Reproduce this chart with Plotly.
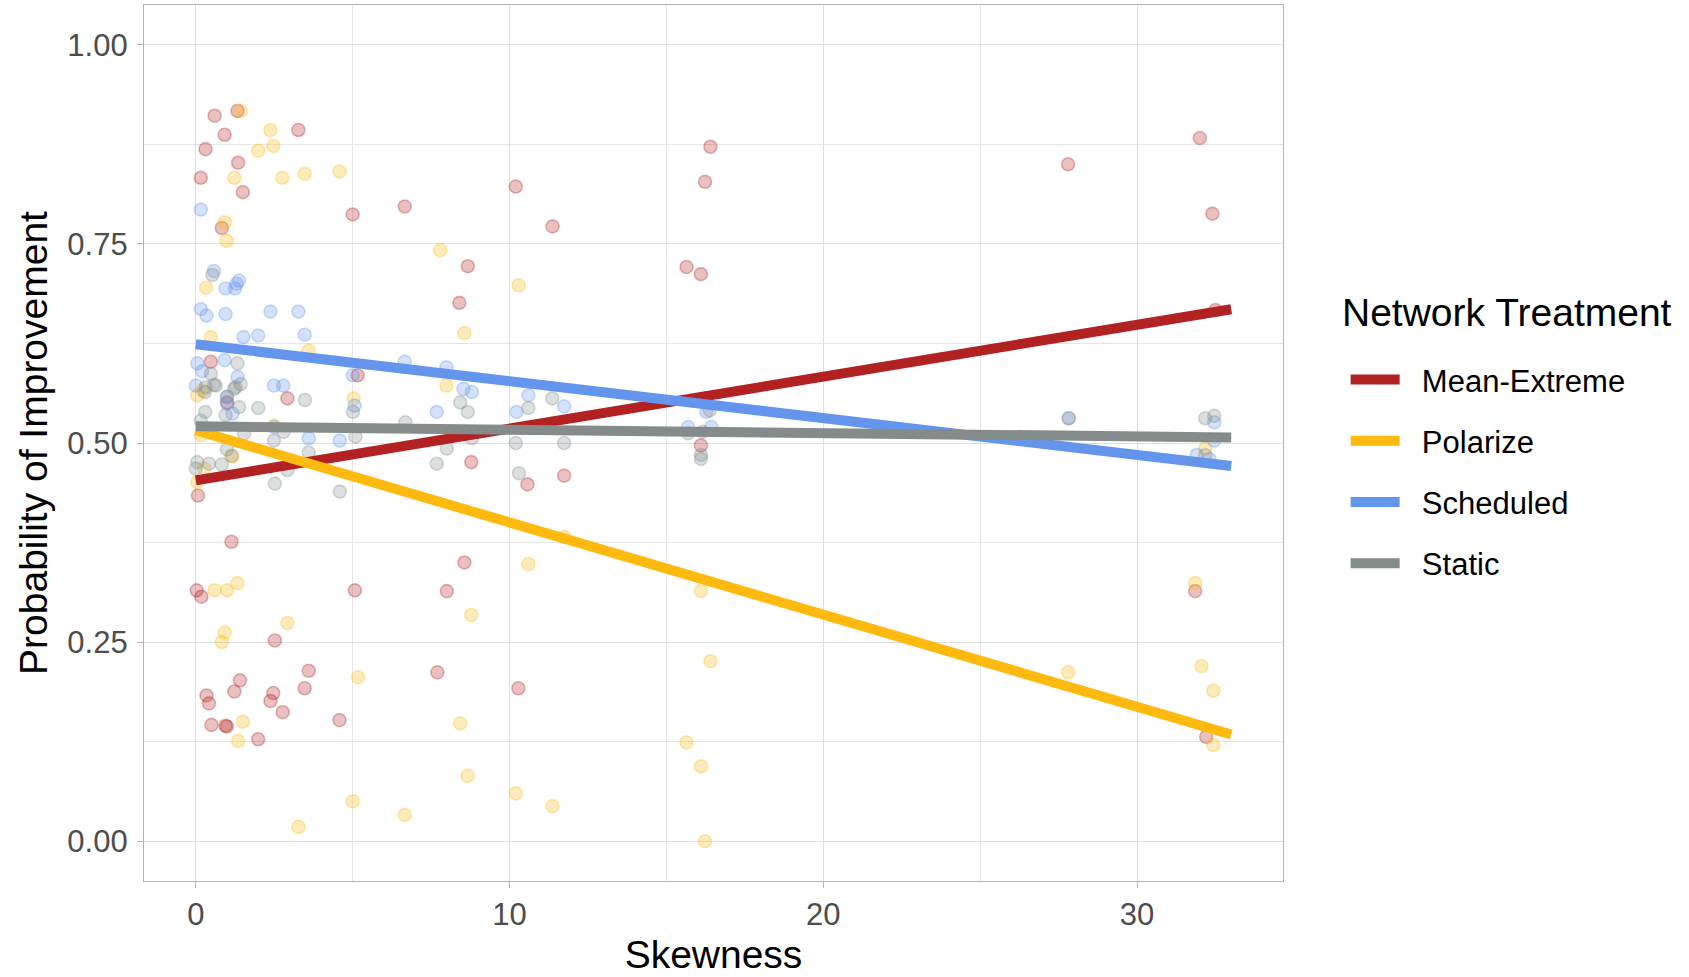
import plotly.graph_objects as go

# ---- observed points (skewness, probability of improvement) per treatment ----
mean_extreme_x = [0.60, 1.33, 0.92, 0.31, 1.35, 0.16, 1.50, 3.27, 5.00, 6.66, 0.83,
                  10.20, 11.37, 8.67, 8.40, 16.40, 16.23, 15.64, 16.10, 27.80, 32.00, 32.40, 32.50,
                  0.48, 5.16, 2.92, 1.00, 8.78, 10.57, 11.74, 16.10, 0.07,
                  1.14, 0.03, 0.18, 5.07, 8.00, 8.56, 10.28, 2.52, 3.60, 3.47, 1.41, 1.23,
                  0.34, 0.42, 2.47, 2.38, 2.77, 0.50, 0.95, 0.99, 1.99, 4.58, 31.85, 32.20, 7.70]
mean_extreme_y = [0.911, 0.917, 0.887, 0.869, 0.852, 0.833, 0.815, 0.893, 0.787, 0.797, 0.770,
                  0.822, 0.772, 0.722, 0.676, 0.872, 0.828, 0.721, 0.712, 0.850, 0.883, 0.788, 0.667,
                  0.602, 0.585, 0.556, 0.551, 0.476, 0.448, 0.459, 0.497, 0.434,
                  0.376, 0.315, 0.307, 0.315, 0.314, 0.350, 0.192, 0.252, 0.214, 0.192, 0.202, 0.188,
                  0.183, 0.173, 0.186, 0.176, 0.162, 0.146, 0.145, 0.144, 0.128, 0.152, 0.314, 0.131, 0.212]

polarize_x = [1.43, 2.38, 1.99, 2.47, 1.23, 2.76, 3.47, 4.58, 0.93, 0.98, 7.79, 0.33, 0.48,
              3.60, 10.29, 8.56, 7.99, 5.03, 0.05, 0.21, 2.49,
              0.16, 1.17, 0.27, 0.05, 32.17,
              0.60, 1.00, 1.33, 0.92, 0.83, 2.92, 1.50, 1.35, 5.17, 5.00, 6.66, 3.27,
              8.78, 8.43, 8.66, 10.20, 11.37, 16.10, 16.40, 15.64, 16.10, 16.23, 10.60, 11.74,
              31.85, 32.05, 32.43, 32.43, 27.80]
polarize_y = [0.917, 0.893, 0.867, 0.873, 0.833, 0.833, 0.838, 0.841, 0.777, 0.754, 0.742, 0.695, 0.633,
              0.616, 0.698, 0.638, 0.572, 0.556, 0.560, 0.566, 0.522,
              0.510, 0.483, 0.468, 0.451, 0.493,
              0.315, 0.315, 0.324, 0.262, 0.250, 0.274, 0.150, 0.126, 0.206, 0.050, 0.033, 0.018,
              0.284, 0.148, 0.082, 0.060, 0.044, 0.314, 0.226, 0.124, 0.094, 0.000, 0.348, 0.382,
              0.324, 0.220, 0.189, 0.121, 0.212]

scheduled_x = [0.16, 0.58, 0.95, 1.25, 1.38, 1.30, 0.16, 0.34, 0.95, 2.38, 3.27, 1.52, 1.99,
               3.47, 0.05, 0.92, 1.33, 2.49, 2.79, 0.00, 6.66, 5.00, 5.06, 7.68, 1.00, 1.00,
               1.17, 3.60, 4.59, 7.99, 8.53, 8.80, 10.22, 10.60, 11.74, 16.27, 15.69, 16.43,
               27.82, 32.46, 32.46, 31.90, 32.30, 2.50, 0.20]
scheduled_y = [0.793, 0.716, 0.694, 0.694, 0.704, 0.700, 0.668, 0.660, 0.662, 0.665, 0.665, 0.633, 0.635,
               0.636, 0.600, 0.604, 0.583, 0.572, 0.572, 0.572, 0.602, 0.585, 0.547, 0.539, 0.558, 0.549,
               0.537, 0.506, 0.503, 0.595, 0.568, 0.564, 0.539, 0.560, 0.546, 0.539, 0.520, 0.520,
               0.531, 0.526, 0.503, 0.485, 0.480, 0.520, 0.590]

static_x = [0.53, 1.33, 0.48, 0.58, 1.22, 1.43, 0.29, 0.99, 1.38, 1.99, 3.48, 0.30, 0.95, 5.01,
            6.68, 0.16, 1.54, 2.49, 2.80, 3.60, 0.99, 1.14, 0.05, 0.00, 0.42, 0.83, 2.92, 2.52,
            4.59, 5.09, 8.43, 8.67, 8.80, 8.00, 7.68, 10.60, 11.36, 10.20, 11.74, 10.30, 16.38,
            15.69, 16.16, 16.10, 16.10, 27.82, 32.17, 32.46, 32.17, 0.32, 0.64, 1.27]
static_y = [0.711, 0.600, 0.587, 0.573, 0.568, 0.574, 0.564, 0.558, 0.545, 0.544, 0.554, 0.539, 0.535, 0.539,
            0.526, 0.528, 0.512, 0.503, 0.514, 0.488, 0.492, 0.484, 0.476, 0.468, 0.474, 0.473, 0.466, 0.449,
            0.439, 0.508, 0.551, 0.539, 0.506, 0.493, 0.474, 0.544, 0.556, 0.500, 0.500, 0.462, 0.541,
            0.512, 0.514, 0.485, 0.480, 0.531, 0.531, 0.534, 0.485, 0.570, 0.572, 0.570]

# ---- fitted linear trends: value at the start and end of the skewness range ----
fit_x = [0.0, 33.0]
fit_mean_extreme = [0.453, 0.668]
fit_polarize = [0.516, 0.134]
fit_scheduled = [0.624, 0.471]
fit_static = [0.521, 0.507]

treatments = ["Mean-Extreme", "Polarize", "Scheduled", "Static"]
colors = {
    "Mean-Extreme": (178, 34, 34),
    "Polarize": (255, 185, 15),
    "Scheduled": (100, 149, 237),
    "Static": (131, 139, 139),
}
points = {
    "Mean-Extreme": (mean_extreme_x, mean_extreme_y),
    "Polarize": (polarize_x, polarize_y),
    "Scheduled": (scheduled_x, scheduled_y),
    "Static": (static_x, static_y),
}
fits = {
    "Mean-Extreme": fit_mean_extreme,
    "Polarize": fit_polarize,
    "Scheduled": fit_scheduled,
    "Static": fit_static,
}

FONT = "Liberation Sans, Arial, Helvetica, sans-serif"
LEGEND_PAD = "\u00a0\u00a0"  # small gap between legend key and label


def rgba(c, a):
    return f"rgba({c[0]},{c[1]},{c[2]},{a})"


fig = go.Figure()

# translucent points
for t in treatments:
    xs, ys = points[t]
    c = colors[t]
    fig.add_trace(go.Scatter(
        x=xs, y=ys, mode="markers", name=t, showlegend=False, legendgroup=t,
        marker=dict(size=13, color=rgba(c, 0.28),
                    line=dict(color=rgba(c, 0.32), width=1.6)),
        hoverinfo="x+y+name",
    ))

# trend lines on top
for t in treatments:
    c = colors[t]
    fig.add_trace(go.Scatter(
        x=fit_x, y=fits[t], mode="lines", name=LEGEND_PAD + t, legendgroup=t,
        line=dict(color=rgba(c, 1), width=10),
    ))

axis_common = dict(
    showline=True, mirror=True, linecolor="#B3B3B3", linewidth=1.3,
    ticks="outside", ticklen=6, tickcolor="#B3B3B3", tickwidth=1.3,
    showgrid=True, gridcolor="#DEDEDE", gridwidth=1.4,
    zeroline=False,
    tickfont=dict(family=FONT, size=31, color="#4D4D4D"),
)

fig.update_xaxes(
    range=[-1.65, 34.65], tickvals=[0, 10, 20, 30], ticktext=["0", "10", "20", "30"],
    minor=dict(tickvals=[5, 15, 25], showgrid=True, gridcolor="#E6E6E6", gridwidth=0.9, ticks=""),
    title=dict(text="Skewness", font=dict(family=FONT, size=39, color="#000000"), standoff=9),
    **axis_common,
)
fig.update_yaxes(
    range=[-0.05, 1.05], tickvals=[0, 0.25, 0.5, 0.75, 1.0],
    ticktext=["0.00", "0.25", "0.50", "0.75", "1.00"],
    minor=dict(tickvals=[0.125, 0.375, 0.625, 0.875], showgrid=True, gridcolor="#E6E6E6",
               gridwidth=0.9, ticks=""),
    title=dict(text="Probability of Improvement", font=dict(family=FONT, size=39, color="#000000"),
               standoff=7),
    ticklabelstandoff=3,
    **axis_common,
)

# legend title placed as its own text block above the legend entries
fig.add_annotation(
    text="Network Treatment", xref="paper", yref="paper",
    x=(1340 - 144) / 1139, xanchor="left", y=1 - (312 - 5) / 876, yanchor="middle",
    showarrow=False, font=dict(family=FONT, size=39, color="#000000"),
)

fig.update_layout(
    width=1689, height=977,
    margin=dict(l=144, r=406, t=5, b=96),
    paper_bgcolor="white", plot_bgcolor="white",
    font=dict(family=FONT),
    showlegend=True,
    legend=dict(
        x=1.055, xanchor="left", y=0.603, yanchor="top",
        font=dict(family=FONT, size=31, color="#000000"),
        tracegroupgap=18, itemwidth=49,
        bgcolor="rgba(0,0,0,0)",
    ),
)

fig.write_html("out.html")
